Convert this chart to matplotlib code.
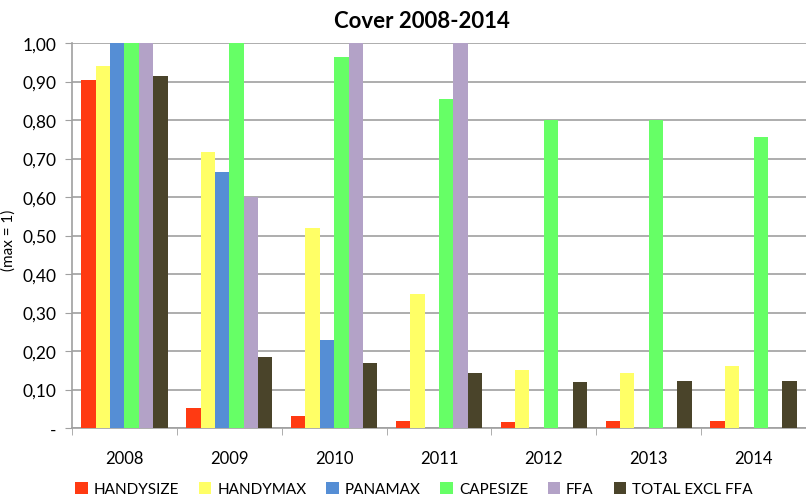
import numpy as np
import matplotlib.pyplot as plt

plt.rcParams['font.family'] = ['Lato', 'DejaVu Sans']

years = ['2008', '2009', '2010', '2011', '2012', '2013', '2014']
series = ['HANDYSIZE', 'HANDYMAX', 'PANAMAX', 'CAPESIZE', 'FFA', 'TOTAL EXCL FFA']

handysize = [0.905, 0.053, 0.032, 0.017, 0.015, 0.017, 0.017]
handymax = [0.94, 0.717, 0.52, 0.348, 0.151, 0.143, 0.160]
panamax = [1.0, 0.665, 0.228, 0, 0, 0, 0]
capesize = [1.0, 1.0, 0.963, 0.855, 0.80, 0.80, 0.757]
ffa = [1.0, 0.60, 1.0, 1.0, 0, 0, 0]
total = [0.915, 0.185, 0.17, 0.143, 0.12, 0.123, 0.123]

values = [handysize, handymax, panamax, capesize, ffa, total]
colors = ['#FF3A12', '#FFFF66', '#558ED5', '#66FF66', '#B3A2C7', '#4A442A']

fig = plt.figure(figsize=(8.06, 5.02), dpi=100)
ax = fig.add_axes([72 / 806, 73 / 502, 734 / 806, 385 / 502])

x = np.arange(len(years))
w = 0.137
for i, (name, vals) in enumerate(zip(series, values)):
    ax.bar(x + (i - 2.5) * w, vals, w, color=colors[i], label=name, zorder=3)

ax.set_xlim(-0.5, -0.5 + 734 / 106)
ax.set_ylim(0, 1.0)

# y ticks with comma decimals, zero shown as a dash
yt = np.arange(0, 1.01, 0.1)
ax.set_yticks(yt)
ax.set_yticklabels([('-' if v == 0 else ('%.2f' % v).replace('.', ',')) for v in yt])
ax.yaxis.grid(True, color='#A0A0A0', linewidth=1.2, zorder=0)
ax.tick_params(axis='y', length=5, color='#A0A0A0', labelsize=12.5, pad=6)

ax.set_xticks(x)
ax.set_xticklabels(years)
ax.set_xticks(np.arange(-0.5, len(years), 1), minor=True)
ax.tick_params(axis='x', which='major', length=0, labelsize=12, pad=16)
ax.tick_params(axis='x', which='minor', length=5, color='#A0A0A0')

for s in ['top', 'right']:
    ax.spines[s].set_visible(False)
ax.spines['left'].set_color('#A0A0A0')
ax.spines['bottom'].set_color('#A0A0A0')
ax.spines['left'].set_linewidth(1.2)
ax.spines['bottom'].set_linewidth(1.2)

fig.text(422 / 806, 1 - 22 / 502, 'Cover 2008-2014', ha='center', va='center',
         fontsize=16, fontweight='bold')
fig.text(9 / 806, 1 - 240 / 502, '(max = 1)', rotation=90, ha='center',
         va='center', fontsize=11)

fig.legend(loc='center', bbox_to_anchor=(414 / 806, 1 - 490 / 502), ncol=6,
           frameon=False, fontsize=11, handlelength=0.8, handleheight=0.8,
           handletextpad=0.4, columnspacing=1.3)

fig.savefig('out.png', dpi=100)
